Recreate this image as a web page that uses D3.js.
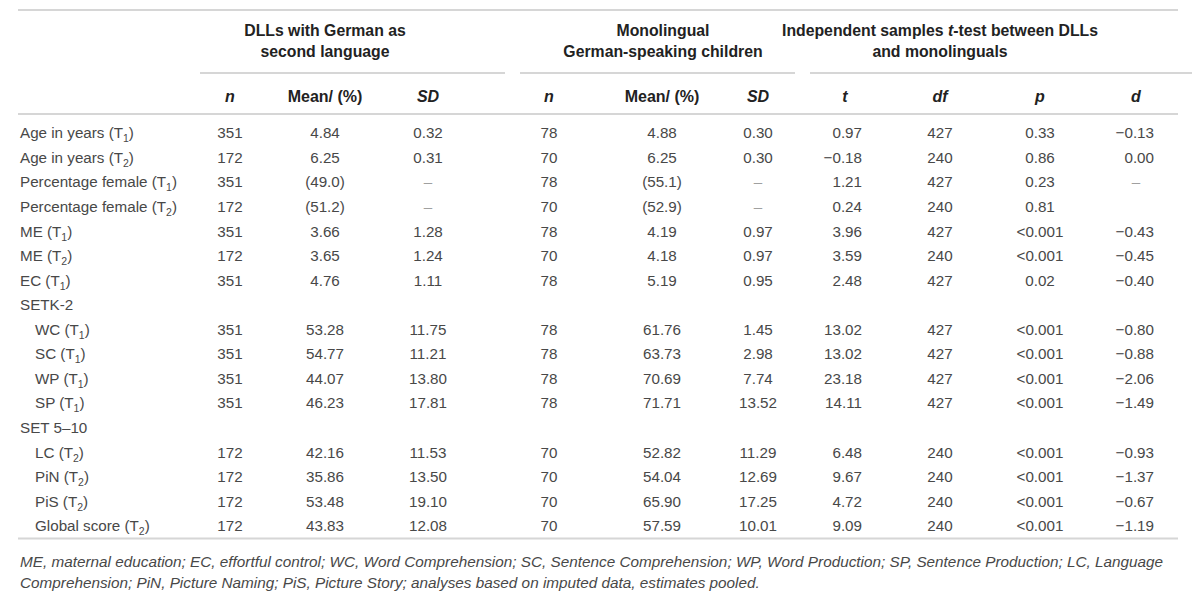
<!DOCTYPE html>
<html>
<head>
<meta charset="utf-8">
<script src="https://cdn.jsdelivr.net/npm/d3@7"></script>
<style>
  body { margin: 0; background: #fff; }
  text { font-family: "Liberation Sans", Arial, Helvetica, sans-serif; }
</style>
</head>
<body>
<script>
// row labels, time point (null = none) and indent
const rowLabels = ['Age in years', 'Age in years', 'Percentage female', 'Percentage female',
  'ME', 'ME', 'EC', 'SETK-2', 'WC', 'SC', 'WP', 'SP', 'SET 5\u201310', 'LC', 'PiN', 'PiS', 'Global score'];
const rowTimes = [1, 2, 1, 2, 1, 2, 1, null, 1, 1, 1, 1, null, 2, 2, 2, 2];
const rowIndent = [0, 0, 0, 0, 0, 0, 0, 0, 1, 1, 1, 1, 0, 1, 1, 1, 1];

const dllN = ['351', '172', '351', '172', '351', '172', '351', '', '351', '351', '351', '351', '', '172', '172', '172', '172'];
const dllMean = ['4.84', '6.25', '(49.0)', '(51.2)', '3.66', '3.65', '4.76', '', '53.28', '54.77', '44.07', '46.23', '', '42.16', '35.86', '53.48', '43.83'];
const dllSD = ['0.32', '0.31', '\u2013', '\u2013', '1.28', '1.24', '1.11', '', '11.75', '11.21', '13.80', '17.81', '', '11.53', '13.50', '19.10', '12.08'];
const monoN = ['78', '70', '78', '70', '78', '70', '78', '', '78', '78', '78', '78', '', '70', '70', '70', '70'];
const monoMean = ['4.88', '6.25', '(55.1)', '(52.9)', '4.19', '4.18', '5.19', '', '61.76', '63.73', '70.69', '71.71', '', '52.82', '54.04', '65.90', '57.59'];
const monoSD = ['0.30', '0.30', '\u2013', '\u2013', '0.97', '0.97', '0.95', '', '1.45', '2.98', '7.74', '13.52', '', '11.29', '12.69', '17.25', '10.01'];
const tVals = ['0.97', '\u22120.18', '1.21', '0.24', '3.96', '3.59', '2.48', '', '13.02', '13.02', '23.18', '14.11', '', '6.48', '9.67', '4.72', '9.09'];
const dfVals = ['427', '240', '427', '240', '427', '240', '427', '', '427', '427', '427', '427', '', '240', '240', '240', '240'];
const pVals = ['0.33', '0.86', '0.23', '0.81', '<0.001', '<0.001', '0.02', '', '<0.001', '<0.001', '<0.001', '<0.001', '', '<0.001', '<0.001', '<0.001', '<0.001'];
const dVals = ['\u22120.13', '0.00', '\u2013', '', '\u22120.43', '\u22120.45', '\u22120.40', '', '\u22120.80', '\u22120.88', '\u22122.06', '\u22121.49', '', '\u22120.93', '\u22121.37', '\u22120.67', '\u22121.19'];

const columnKeys = ['dllN', 'dllMean', 'dllSD', 'monoN', 'monoMean', 'monoSD', 't', 'df', 'p', 'd'];
const columnHeads = ['n', 'Mean/ (%)', 'SD', 'n', 'Mean/ (%)', 'SD', 't', 'df', 'p', 'd'];
const columnItalic = [1, 0, 1, 1, 0, 1, 1, 1, 1, 1];
const columnValues = [dllN, dllMean, dllSD, monoN, monoMean, monoSD, tVals, dfVals, pVals, dVals];

const groupTitles = [
  ['DLLs with German as', 'second language'],
  ['Monolingual', 'German-speaking children'],
  [['Independent samples ', ['t'], '-test between DLLs'], 'and monolinguals']
];
const footnote = [
  'ME, maternal education; EC, effortful control; WC, Word Comprehension; SC, Sentence Comprehension; WP, Word Production; SP, Sentence Production; LC, Language',
  'Comprehension; PiN, Picture Naming; PiS, Picture Story; analyses based on imputed data, estimates pooled.'
];

const width = 1200;
const height = 598;
const left = 18;
const right = 1178;

const svg = d3.select('body').append('svg')
  .attr('width', width)
  .attr('height', height);

const x = d3.scaleOrdinal()
  .domain(columnKeys)
  .range([230, 325, 428, 549, 662, 758, 845, 940, 1040, 1136]);

// numeric columns set flush right in the reference
const rightAligned = { t: 17, d: 18 };

const groupX = d3.scaleOrdinal()
  .domain([0, 1, 2])
  .range([[200, 505], [520, 795], [810, 1192]]);
const groupCenter = [325, 663, 940];

const y = d3.scaleBand()
  .domain(d3.range(rowLabels.length))
  .range([121, 121 + 24.56 * rowLabels.length]);

const lineColor = '#d6d6d6';
const hline = (y0, x0, x1) => svg.append('line')
  .attr('x1', x0).attr('x2', x1)
  .attr('y1', y0).attr('y2', y0)
  .attr('stroke', lineColor)
  .attr('stroke-width', 2);

hline(10, left, right);
hline(114, left, right);
hline(y.range()[1], left, right);
groupTitles.forEach((g, i) => hline(73, groupX(i)[0], groupX(i)[1]));

// group headings
groupTitles.forEach((lines, i) => {
  lines.forEach((ln, j) => {
    const t = svg.append('text')
      .attr('x', groupCenter[i])
      .attr('y', 36 + j * 21)
      .attr('text-anchor', 'middle')
      .attr('font-size', 15.8)
      .attr('font-weight', 'bold')
      .attr('fill', '#222');
    if (Array.isArray(ln)) {
      ln.forEach((part) => {
        t.append('tspan')
          .attr('font-style', Array.isArray(part) ? 'italic' : 'normal')
          .text(Array.isArray(part) ? part[0] : part);
      });
    } else {
      t.text(ln);
    }
  });
});

// column headings
svg.append('g')
  .selectAll('text')
  .data(columnKeys)
  .join('text')
  .attr('x', (d) => x(d))
  .attr('y', 102)
  .attr('text-anchor', 'middle')
  .attr('font-size', 16)
  .attr('font-weight', 'bold')
  .attr('font-style', (d, i) => columnItalic[i] ? 'italic' : 'normal')
  .attr('fill', '#222')
  .text((d, i) => columnHeads[i]);

// row labels with subscripted time point
const labels = svg.append('g')
  .selectAll('text')
  .data(rowLabels)
  .join('text')
  .attr('x', (d, i) => rowIndent[i] ? 35 : 20)
  .attr('y', (d, i) => y(i) + y.bandwidth() / 2 + 5)
  .attr('font-size', 15.2)
  .attr('fill', '#484848');

labels.each(function (d, i) {
  const t = d3.select(this);
  if (rowTimes[i] === null) {
    t.text(d);
    return;
  }
  t.append('tspan').text(`${d} (T`);
  t.append('tspan').attr('font-size', 10.5).attr('dy', 4).text(rowTimes[i]);
  t.append('tspan').attr('dy', -4).text(')');
});

// body cells
columnKeys.forEach((key, c) => {
  const off = rightAligned[key];
  svg.append('g')
    .selectAll('text')
    .data(columnValues[c])
    .join('text')
    .attr('x', (d) => (off && d !== '\u2013') ? x(key) + off : x(key))
    .attr('y', (d, i) => y(i) + y.bandwidth() / 2 + 5)
    .attr('text-anchor', (d) => (off && d !== '\u2013') ? 'end' : 'middle')
    .attr('font-size', 15.2)
    .attr('fill', (d) => d === '\u2013' ? '#a0a0a0' : '#484848')
    .text((d) => d);
});

// footnote
svg.append('g')
  .selectAll('text')
  .data(footnote)
  .join('text')
  .attr('x', 20)
  .attr('y', (d, i) => 567 + i * 21)
  .attr('font-size', 15.3)
  .attr('font-style', 'italic')
  .attr('fill', '#484848')
  .text((d) => d);
</script>
</body>
</html>
